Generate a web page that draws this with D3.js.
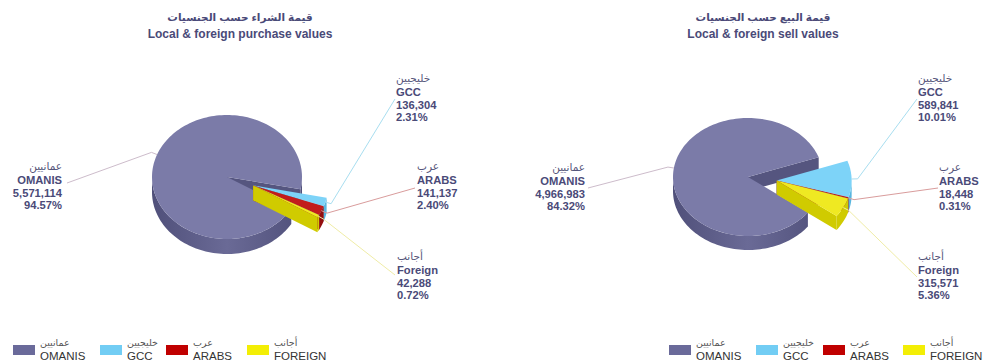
<!DOCTYPE html>
<html><head><meta charset="utf-8">
<script src="https://cdn.jsdelivr.net/npm/d3@7"></script>
<style>body{margin:0;background:#fff;} svg{display:block;}</style>
</head><body><svg id="c" width="1000" height="361"></svg>
<script>
// ---- data ----
const categoriesEn = ["OMANIS", "GCC", "ARABS", "Foreign"];
const legendEn = ["OMANIS", "GCC", "ARABS", "FOREIGN"];
const categoriesAr = ["عمانيين", "خليجيين", "عرب", "أجانب"];
const purchaseValues = [5571114, 136304, 141137, 42288];
const sellValues = [4966983, 589841, 18448, 315571];
const titlesAr = ["قيمة الشراء حسب الجنسيات", "قيمة البيع حسب الجنسيات"];
const titlesEn = ["Local & foreign purchase values", "Local & foreign sell values"];

// ---- styles ----
const topColors = ["#7b7ba8", "#7dd3f8", "#c21c1c", "#efe922"];
const sideColors = ["#5d5d89", "#58b6df", "#940f0f", "#d0cb00"];
const legendColors = ["#6a6a9a", "#72cdf4", "#c00000", "#f3ee05"];
const leaderColors = ["#cdbccb", "#a8def0", "#d99c9c", "#efeca6"];
const textColor = "#4a4a78";

const charts = [
  { values: purchaseValues, cx: 227, cy: 177, rx: 75, ry: 62, depth: 15, start: 31, explode: 28, titleX: 240,
    labels: [{x: 62, y: 166, anchor: "end", lx: 67, ly: 183},
             {x: 396, y: 78, anchor: "start", lx: 395, ly: 99},
             {x: 417, y: 166, anchor: "start", lx: 415, ly: 188},
             {x: 397, y: 256, anchor: "start", lx: 395, ly: 275}],
    legendX: [13, 100, 166, 247] },
  { values: sellValues, cx: 748, cy: 177, rx: 75, ry: 59, depth: 14, start: 37, explode: 29, titleX: 763,
    labels: [{x: 585, y: 167, anchor: "end", lx: 588, ly: 188},
             {x: 918, y: 78, anchor: "start", lx: 917, ly: 99},
             {x: 939, y: 167, anchor: "start", lx: 938, ly: 188},
             {x: 918, y: 256, anchor: "start", lx: 917, ly: 277}],
    legendX: [669, 756, 823, 903] }
];

const svg = d3.select("#c");
const defs = svg.append("defs");
const fmt = d3.format(",");
const pctFmt = d3.format(".2%");
const rad = d => d * Math.PI / 180;
const FONT = "'Liberation Sans', Arial, 'DejaVu Sans', sans-serif";

charts.forEach((ch, ci) => {
  const g = svg.append("g");
  const total = d3.sum(ch.values);
  const pie = d3.pie().sort(null)
    .startAngle(rad(ch.start + 90)).endAngle(rad(ch.start + 90 + 360));
  const arcs = pie(ch.values).map((a, i) => ({
    i, v: a.value, t0: a.startAngle - Math.PI / 2, t1: a.endAngle - Math.PI / 2
  }));
  const small = arcs.slice(1);
  const mid = (small[0].t0 + small[small.length - 1].t1) / 2;
  const ox = ch.explode * Math.cos(mid), oy = ch.explode * Math.sin(mid) * ch.ry / ch.rx;
  arcs.forEach(a => { a.ox = a.i === 0 ? 0 : ox; a.oy = a.i === 0 ? 0 : oy; });

  const gradId = "omSide" + ci;
  const grad = defs.append("linearGradient").attr("id", gradId)
    .attr("gradientUnits", "userSpaceOnUse")
    .attr("x1", ch.cx - ch.rx).attr("x2", ch.cx + ch.rx).attr("y1", 0).attr("y2", 0);
  grad.append("stop").attr("offset", 0).attr("stop-color", "#50507a");
  grad.append("stop").attr("offset", 0.5).attr("stop-color", "#6a6a96");
  grad.append("stop").attr("offset", 1).attr("stop-color", "#50507a");

  const pt = (a, t, dz) => [ch.cx + a.ox + ch.rx * Math.cos(t), ch.cy + a.oy + ch.ry * Math.sin(t) + (dz || 0)];
  const arcPts = (a, t0, t1, dz) => {
    const n = Math.max(2, Math.ceil(Math.abs(t1 - t0) / rad(2)));
    return d3.range(n + 1).map(k => pt(a, t0 + (t1 - t0) * k / n, dz));
  };
  const line = d3.line();

  arcs.forEach(a => {
    const sg = g.append("g");
    const sideFill = a.i === 0 ? `url(#${gradId})` : sideColors[a.i];
    const c0 = [ch.cx + a.ox, ch.cy + a.oy];
    const wall = t => {
      const p = pt(a, t);
      return [c0, p, [p[0], p[1] + ch.depth], [c0[0], c0[1] + ch.depth]];
    };
    if (Math.cos(a.t0) < 0) sg.append("path").attr("d", line(wall(a.t0)) + "Z").attr("fill", a.i === 0 ? "#55557f" : sideColors[a.i]);
    if (Math.cos(a.t1) > 0) sg.append("path").attr("d", line(wall(a.t1)) + "Z").attr("fill", a.i === 0 ? "#55557f" : sideColors[a.i]);
    for (let k = -1; k <= 2; k++) {
      const lo = Math.max(a.t0, 2 * Math.PI * k), hi = Math.min(a.t1, 2 * Math.PI * k + Math.PI);
      if (hi > lo) {
        const pts = arcPts(a, lo, hi, 0).concat(arcPts(a, hi, lo, ch.depth));
        sg.append("path").attr("d", line(pts) + "Z").attr("fill", sideFill);
      }
    }
    const topPts = [c0].concat(arcPts(a, a.t0, a.t1, 0));
    sg.append("path").attr("d", line(topPts) + "Z").attr("fill", topColors[a.i]);
  });

  arcs.forEach(a => {
    const m = (a.t0 + a.t1) / 2;
    const rim = pt(a, m);
    const elbow = [rim[0] + 6 * Math.cos(m), rim[1] + 6 * Math.sin(m)];
    const L = ch.labels[a.i];
    g.append("path").attr("d", line([[L.lx, L.ly], elbow, rim]))
      .attr("fill", "none").attr("stroke", leaderColors[a.i]).attr("stroke-width", 1);
  });

  arcs.forEach(a => {
    const L = ch.labels[a.i];
    const t = g.append("g").attr("font-family", FONT).attr("text-anchor", L.anchor);
    t.append("text").attr("x", L.x).attr("y", L.y).attr("dy", "0.35em")
      .attr("font-size", 10.5).attr("fill", "#55557a").text(categoriesAr[a.i]);
    const lines = [categoriesEn[a.i], fmt(a.v), pctFmt(a.v / total)];
    lines.forEach((s, k) => {
      t.append("text").attr("x", L.x).attr("y", L.y + 14 + k * 12.7).attr("dy", "0.35em")
        .attr("font-size", 11.2).attr("font-weight", "bold").attr("fill", textColor).text(s);
    });
  });

  g.append("text").attr("x", ch.titleX).attr("y", 17).attr("dy", "0.35em").attr("text-anchor", "middle")
    .attr("font-family", FONT).attr("font-size", 10.5).attr("font-weight", "bold").attr("fill", textColor)
    .text(titlesAr[ci]);
  g.append("text").attr("x", ch.titleX).attr("y", 34).attr("dy", "0.35em").attr("text-anchor", "middle")
    .attr("font-family", FONT).attr("font-size", 12).attr("font-weight", "bold").attr("fill", textColor)
    .text(titlesEn[ci]);

  legendEn.forEach((name, i) => {
    const x = ch.legendX[i];
    g.append("rect").attr("x", x).attr("y", 345).attr("width", 22).attr("height", 10).attr("fill", legendColors[i]);
    g.append("text").attr("x", x + 27).attr("y", 343).attr("dy", "0.35em").attr("font-family", FONT)
      .attr("font-size", 9.5).attr("fill", "#555").text(categoriesAr[i]);
    g.append("text").attr("x", x + 27).attr("y", 356).attr("dy", "0.35em").attr("font-family", FONT)
      .attr("font-size", 11.5).attr("fill", "#333").text(name);
  });
});
</script></body></html>
